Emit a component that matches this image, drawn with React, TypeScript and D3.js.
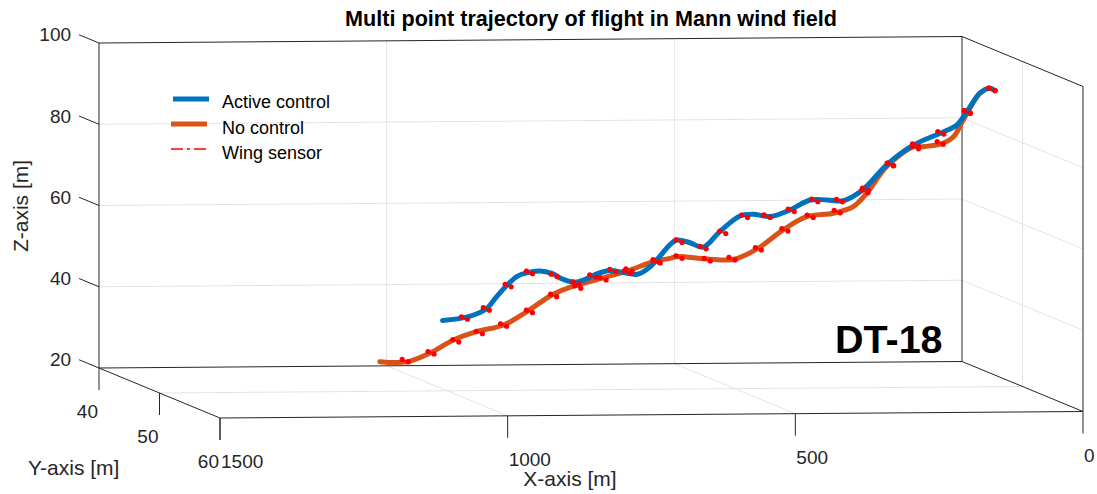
import React from "react";
import * as d3 from "d3";

// Axis limits and ticks
const X_DOMAIN = [1500, 0];
const Y_DOMAIN = [40, 60];
const Z_DOMAIN = [20, 100];
const X_TICKS = [1500, 1000, 500, 0];
const Y_TICKS = [40, 50, 60];
const Z_TICKS = [20, 40, 60, 80, 100];
const X_GRID = [1000, 500];
const Y_GRID = [50];
const Z_GRID = [40, 60, 80];

// Flight path lateral position and wing sensor half-span [m]
const PATH_Y = 50;
const WING_HALF_SPAN = 0.5;

// Trajectory with active control
const activeX = [1008, 966, 943, 931, 914, 896, 879, 862, 839, 818, 798, 778, 760, 740, 717, 694, 671, 653, 636, 613, 601, 578, 555, 526, 491, 468, 439, 404, 369, 340, 311, 277, 236, 190, 143, 114, 97, 74, 57, 48];
const activeZ = [37.3, 38.1, 39.2, 40.2, 43.1, 45.9, 48.0, 48.9, 49.3, 48.7, 47.2, 46.5, 47.2, 48.5, 49.3, 48.8, 48.3, 49.5, 51.8, 55.5, 56.7, 56.0, 54.9, 58.7, 62.5, 62.9, 62.3, 63.9, 66.3, 66.3, 66.1, 68.8, 74.8, 79.6, 82.5, 84.5, 87.7, 92.3, 93.5, 92.9];

// Trajectory without control
const noX = [1117, 1070, 1030, 989, 949, 902, 862, 818, 786, 752, 717, 682, 642, 613, 601, 549, 503, 462, 416, 375, 329, 294, 271, 236, 190, 178, 143, 120, 103, 74, 57, 48];
const noZ = [27.3, 27.2, 29.3, 32.5, 34.5, 36.1, 39.3, 43.4, 45.3, 46.6, 48.0, 49.4, 51.4, 52.2, 52.6, 52.0, 51.8, 54.3, 59.0, 62.2, 63.0, 64.6, 67.8, 74.4, 79.2, 79.2, 79.8, 81.6, 85.7, 92.3, 93.5, 92.9];

// Wing sensor samples along each trajectory
const activeSensorX = [970, 932, 894, 857, 814, 776, 747, 712, 684, 635, 597, 555, 521, 483, 444, 402, 361, 318, 273, 230, 186, 142, 96, 53];
const activeSensorZ = [37.9, 40.1, 45.8, 49.0, 48.2, 46.3, 48.0, 49.3, 49.4, 51.4, 56.4, 54.8, 58.5, 62.4, 62.4, 63.8, 66.2, 66.1, 68.8, 74.9, 79.6, 82.6, 87.7, 93.2];
const noSensorX = [1073, 1028, 985, 944, 902, 857, 815, 773, 729, 687, 637, 597, 548, 505, 459, 413, 369, 322, 274, 229, 186, 143, 96, 53];
const noSensorZ = [27.5, 29.4, 32.3, 34.3, 36.1, 39.4, 43.3, 45.3, 47.3, 48.9, 51.6, 52.5, 51.8, 52.0, 54.4, 59.0, 62.3, 63.4, 68.3, 74.9, 79.0, 80.1, 87.7, 93.2];

const LEGEND = ["Active control", "No control", "Wing sensor"];
const BLUE = "#0072BD";
const ORANGE = "#D95319";
const RED = "#FF0000";
const AXIS = "#262626";
const GRID = "#e3e3e3";
const FONT = "'Liberation Sans', Arial, Helvetica, sans-serif";

// Orthographic view: screen offset contributed by each data axis
const ORIGIN = [99, 368];
const xToPx = d3.scaleLinear().domain(X_DOMAIN).range([0, 863]);
const xToPy = d3.scaleLinear().domain(X_DOMAIN).range([0, -6.5]);
const yToPx = d3.scaleLinear().domain(Y_DOMAIN).range([0, 121]);
const yToPy = d3.scaleLinear().domain(Y_DOMAIN).range([0, 50]);
const zToPy = d3.scaleLinear().domain(Z_DOMAIN).range([0, -325]);

function proj(x: number, y: number, z: number): [number, number] {
  return [
    ORIGIN[0] + xToPx(x) + yToPx(y),
    ORIGIN[1] + xToPy(x) + yToPy(y) + zToPy(z),
  ];
}

function seg(a: [number, number, number], b: [number, number, number], stroke: string, key: string, w = 1) {
  const p = proj(...a);
  const q = proj(...b);
  return <line key={key} x1={p[0]} y1={p[1]} x2={q[0]} y2={q[1]} stroke={stroke} strokeWidth={w} />;
}

const pathLine = d3.line<[number, number]>().curve(d3.curveCatmullRom.alpha(0.5));

function trajectory(xs: number[], zs: number[]) {
  return pathLine(xs.map((x, i) => proj(x, PATH_Y, zs[i]))) || "";
}

function sensors(xs: number[], zs: number[], key: string) {
  return xs.map((x, i) => {
    const a = proj(x, PATH_Y - WING_HALF_SPAN, zs[i]);
    const b = proj(x, PATH_Y + WING_HALF_SPAN, zs[i]);
    return (
      <g key={`${key}${i}`}>
        <line x1={a[0]} y1={a[1]} x2={b[0]} y2={b[1]} stroke={RED} strokeWidth={1} />
        <circle cx={a[0]} cy={a[1]} r={2.6} fill={RED} />
        <circle cx={b[0]} cy={b[1]} r={2.6} fill={RED} />
      </g>
    );
  });
}

export default function App() {
  const [x0, x1] = X_DOMAIN;
  const [y0, y1] = Y_DOMAIN;
  const [z0, z1] = Z_DOMAIN;
  const tickLen = 22;

  return (
    <svg width={1097} height={494} style={{ position: "absolute", left: 0, top: 0, background: "#fff" }} fontFamily={FONT}>
      {/* grid: back wall, right wall, floor */}
      <g>
        {X_GRID.map((x) => seg([x, y0, z0], [x, y0, z1], GRID, `gbx${x}`))}
        {Z_GRID.map((z) => seg([x0, y0, z], [x1, y0, z], GRID, `gbz${z}`))}
        {Y_GRID.map((y) => seg([x1, y, z0], [x1, y, z1], GRID, `gry${y}`))}
        {Z_GRID.map((z) => seg([x1, y0, z], [x1, y1, z], GRID, `grz${z}`))}
        {Y_GRID.map((y) => seg([x0, y, z0], [x1, y, z0], GRID, `gfy${y}`))}
        {X_GRID.map((x) => seg([x, y0, z0], [x, y1, z0], GRID, `gfx${x}`))}
      </g>

      {/* box edges */}
      <g>
        {seg([x0, y0, z1], [x1, y0, z1], AXIS, "b1")}
        {seg([x0, y0, z0], [x0, y0, z1], AXIS, "b2")}
        {seg([x1, y0, z0], [x1, y0, z1], AXIS, "b3")}
        {seg([x0, y0, z0], [x1, y0, z0], AXIS, "b4")}
        {seg([x1, y0, z1], [x1, y1, z1], AXIS, "b5")}
        {seg([x1, y1, z0], [x1, y1, z1], AXIS, "b6")}
        {seg([x1, y0, z0], [x1, y1, z0], AXIS, "b7")}
        {seg([x0, y1, z0], [x1, y1, z0], AXIS, "b8")}
        {seg([x0, y0, z0], [x0, y1, z0], AXIS, "b9")}
      </g>

      {/* z ticks */}
      {Z_TICKS.map((z) => {
        const p = proj(x0, y0, z);
        const q = proj(x0, y0 - 3.3, z);
        return (
          <g key={`zt${z}`}>
            <line x1={p[0]} y1={p[1]} x2={q[0]} y2={q[1]} stroke={AXIS} strokeWidth={1} />
            <text x={q[0] - 8} y={q[1]} dy="0.35em" textAnchor="end" fontSize={19} fill={AXIS}>{z}</text>
          </g>
        );
      })}

      {/* y ticks */}
      {Y_TICKS.map((y) => {
        const p = proj(x0, y, z0);
        return (
          <g key={`yt${y}`}>
            <line x1={p[0]} y1={p[1]} x2={p[0]} y2={p[1] + tickLen} stroke={AXIS} strokeWidth={1} />
            <text x={p[0] - 1} y={p[1] + tickLen + 28} textAnchor="end" fontSize={19} fill={AXIS}>{y}</text>
          </g>
        );
      })}

      {/* x ticks */}
      {X_TICKS.map((x) => {
        const p = proj(x, y1, z0);
        return (
          <g key={`xt${x}`}>
            <line x1={p[0]} y1={p[1]} x2={p[0]} y2={p[1] + tickLen} stroke={AXIS} strokeWidth={1} />
            <text x={p[0] + 1} y={p[1] + tickLen + 28} textAnchor="start" fontSize={19} fill={AXIS}>{x}</text>
          </g>
        );
      })}

      {/* axis labels */}
      <text x={570} y={486} textAnchor="middle" fontSize={21} fill={AXIS}>X-axis [m]</text>
      <text x={28} y={475} textAnchor="start" fontSize={21} fill={AXIS}>Y-axis [m]</text>
      <text transform="translate(28,206) rotate(-90)" textAnchor="middle" fontSize={21} fill={AXIS}>Z-axis [m]</text>

      {/* title */}
      <text x={591} y={26} textAnchor="middle" fontSize={21.6} fontWeight="bold" fill="#000">
        Multi point trajectory of flight in Mann wind field
      </text>

      {/* trajectories */}
      <path d={trajectory(noX, noZ)} fill="none" stroke={ORANGE} strokeWidth={5} strokeLinecap="round" strokeLinejoin="round" />
      <path d={trajectory(activeX, activeZ)} fill="none" stroke={BLUE} strokeWidth={5} strokeLinecap="round" strokeLinejoin="round" />
      {sensors(noSensorX, noSensorZ, "sn")}
      {sensors(activeSensorX, activeSensorZ, "sa")}

      {/* case label */}
      <text x={835} y={353} fontSize={39.5} fontWeight="bold" fill="#000">DT-18</text>

      {/* legend */}
      <g>
        <line x1={173} y1={99} x2={209} y2={99} stroke={BLUE} strokeWidth={5} />
        <line x1={171} y1={124} x2={207} y2={124} stroke={ORANGE} strokeWidth={5} />
        <line x1={171} y1={149} x2={206} y2={149} stroke={RED} strokeWidth={1.3} strokeDasharray="12 4 3 4" />
        {LEGEND.map((t, i) => (
          <text key={t} x={222} y={108 + i * 25.5} fontSize={18} fill="#000">{t}</text>
        ))}
      </g>
    </svg>
  );
}
